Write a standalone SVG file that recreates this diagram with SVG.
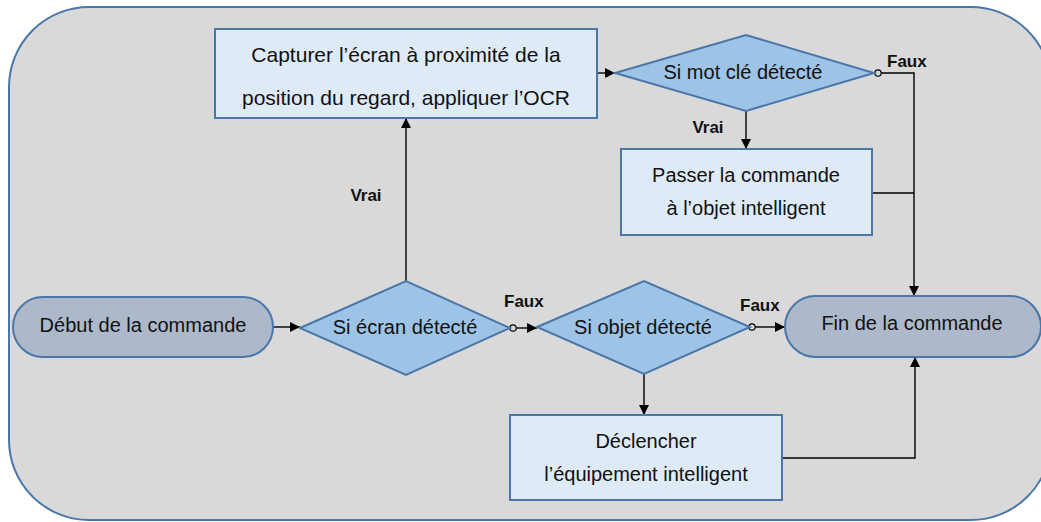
<svg xmlns="http://www.w3.org/2000/svg" width="1041" height="522" viewBox="0 0 1041 522">
<defs>
<marker id="arr" markerUnits="userSpaceOnUse" markerWidth="11" markerHeight="11" refX="10" refY="5" orient="auto">
<path d="M0,0 L10,5 L0,10 z" fill="#000"/>
</marker>
<style>
.bg{fill:#d9d9d9;stroke:#4a76a8;stroke-width:2}
.box{fill:#deeaf6;stroke:#4a76a8;stroke-width:2}
.dia{fill:#9dc3e6;stroke:#4a76a8;stroke-width:2}
.term{fill:#adb9ca;stroke:#4a76a8;stroke-width:2}
.t{font-family:"Liberation Sans",Arial,sans-serif;font-size:20px;fill:#111;text-anchor:middle}
.lbl{font-family:"Liberation Sans",Arial,sans-serif;font-size:17px;font-weight:bold;fill:#111}
.c{fill:none;stroke:#000;stroke-width:1.4}
.a{marker-end:url(#arr)}
.dot{fill:#d9d9d9;stroke:#000;stroke-width:1.2}
</style>
</defs>
<rect class="bg" x="9" y="7" width="1042" height="513" rx="80" ry="80"/>
<g id="connectors">
<line class="c a" x1="273" y1="327" x2="300" y2="327"/>
<line class="c a" x1="406" y1="281" x2="406" y2="118"/>
<line class="c a" x1="597" y1="73" x2="615" y2="73"/>
<line class="c a" x1="746" y1="111" x2="746" y2="149"/>
<polyline class="c a" points="881,73 914,73 914,296"/>
<line class="c" x1="872" y1="193" x2="914" y2="193"/>
<line class="c a" x1="516" y1="328" x2="537" y2="328"/>
<line class="c a" x1="755" y1="327" x2="785" y2="327"/>
<line class="c a" x1="644" y1="374" x2="644" y2="415"/>
<polyline class="c a" points="782,458 915,458 915,357"/>
<circle class="dot" cx="878" cy="73" r="3.2"/>
<circle class="dot" cx="513" cy="328" r="3.2"/>
<circle class="dot" cx="752" cy="327" r="3.2"/>
<text class="lbl" x="366" y="201" text-anchor="middle">Vrai</text>
<text class="lbl" x="708" y="133" text-anchor="middle">Vrai</text>
<text class="lbl" x="887" y="67">Faux</text>
<text class="lbl" x="504" y="307">Faux</text>
<text class="lbl" x="740" y="311">Faux</text>
</g>
<g id="debut">
<rect class="term" x="13" y="297" width="260" height="60" rx="30" ry="30"/>
<text class="t" x="143" y="332">Début de la commande</text>
</g>
<g id="si-ecran">
<polygon class="dia" points="300,328 406,281 510,328 406,375"/>
<text class="t" x="405" y="334">Si écran détecté</text>
</g>
<g id="capturer">
<rect class="box" x="215" y="29" width="382" height="89"/>
<text class="t" x="406" y="62" style="font-size:21px">Capturer l’écran à proximité de la</text>
<text class="t" x="406" y="105" style="font-size:21px">position du regard, appliquer l’OCR</text>
</g>
<g id="si-mot-cle">
<polygon class="dia" points="615,73 746,35 874,73 746,111"/>
<text class="t" x="743" y="79">Si mot clé détecté</text>
</g>
<g id="passer">
<rect class="box" x="621" y="149" width="251" height="86"/>
<text class="t" x="746" y="182">Passer la commande</text>
<text class="t" x="746" y="215">à l’objet intelligent</text>
</g>
<g id="si-objet">
<polygon class="dia" points="537,327 644,281 750,327 644,374"/>
<text class="t" x="643" y="334">Si objet détecté</text>
</g>
<g id="declencher">
<rect class="box" x="510" y="415" width="272" height="85"/>
<text class="t" x="646" y="448">Déclencher</text>
<text class="t" x="646" y="481">l’équipement intelligent</text>
</g>
<g id="fin">
<rect class="term" x="785" y="296" width="256" height="61" rx="30.5" ry="30.5"/>
<text class="t" x="912" y="330">Fin de la commande</text>
</g>
</svg>
